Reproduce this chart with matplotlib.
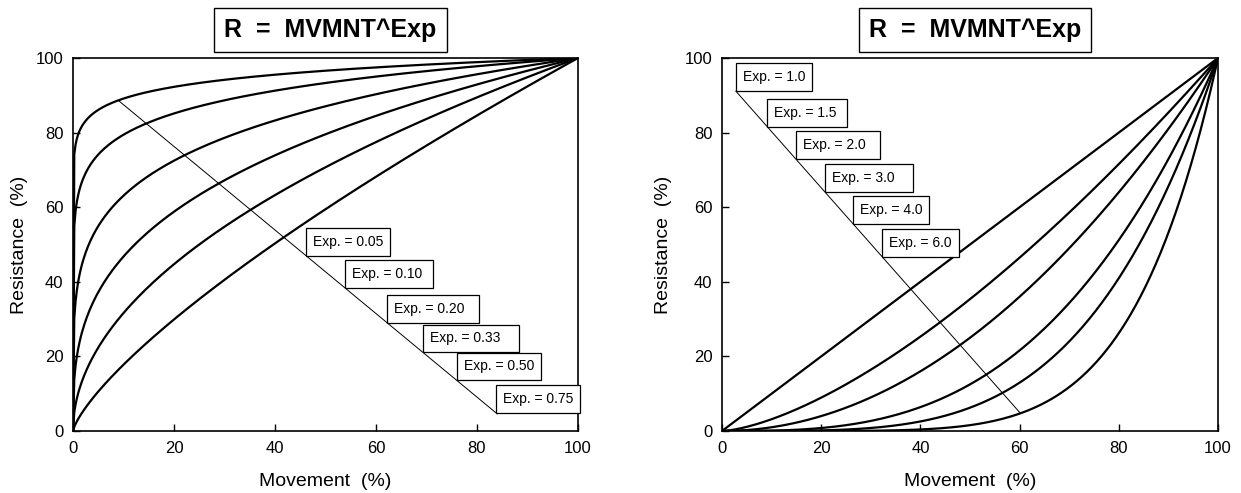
import numpy as np
import matplotlib
matplotlib.use('Agg')
import matplotlib.pyplot as plt

# 曲线指数 (R = MVMNT^Exp)
exps_left = [0.05, 0.10, 0.20, 0.33, 0.50, 0.75]
exps_right = [1.0, 1.5, 2.0, 3.0, 4.0, 6.0]
labels_left = ['Exp. = 0.05', 'Exp. = 0.10', 'Exp. = 0.20', 'Exp. = 0.33', 'Exp. = 0.50', 'Exp. = 0.75']
labels_right = ['Exp. = 1.0', 'Exp. = 1.5', 'Exp. = 2.0', 'Exp. = 3.0', 'Exp. = 4.0', 'Exp. = 6.0']
# 标签框左下角所在的 Movement 位置 (沿引线)
label_x_left = [46.1, 53.9, 62.2, 69.3, 76.0, 83.8]
label_x_right = [2.8, 9.1, 14.9, 20.8, 26.4, 32.3]
# 引线端点
leader_left = ([9, 84], [88.6, 4.6])
leader_right = ([2.8, 60], [91.1, 5.0])
ticks = [0, 20, 40, 60, 80, 100]

plt.rcParams['font.family'] = ['Liberation Sans', 'DejaVu Sans']

movement = np.linspace(0, 100, 401)

fig = plt.figure(figsize=(12.41, 4.93), dpi=100)
ax1 = fig.add_axes([73/1241, 1-431/493, 505/1241, 373/493])
ax2 = fig.add_axes([722/1241, 1-431/493, 496/1241, 373/493])

extra = ['', '\u00a0', '\u00a0\u00a0', '\u00a0\u00a0\u00a0', '', '']

def draw(ax, exps, labels, lx, leader, ylab_x):
    for e in exps:
        ax.plot(movement, 100*(movement/100)**e, color='black', lw=1.6)
    ax.plot(leader[0], leader[1], color='black', lw=0.7)
    slope = (leader[1][1]-leader[1][0])/(leader[0][1]-leader[0][0])
    for x, lab, ex in zip(lx, labels, extra):
        y = leader[1][0] + (x-leader[0][0])*slope
        ax.annotate(lab+ex, xy=(x, y), xytext=(5, 5), textcoords='offset points',
                    ha='left', va='bottom', fontsize=10,
                    bbox=dict(boxstyle='square,pad=0.5', fc='white', ec='black', lw=0.9))
    ax.set_xlim(0, 100)
    ax.set_ylim(0, 100)
    ax.set_xticks(ticks)
    ax.set_yticks(ticks)
    ax.tick_params(direction='in', length=5, width=1, pad=7, labelsize=12)
    for s in ax.spines.values():
        s.set_linewidth(1.2)
    ax.set_xlabel('Movement  (%)', fontsize=14)
    ax.set_ylabel('Resistance  (%)', fontsize=14)
    ax.yaxis.set_label_coords(ylab_x, 0.5)
    ax.xaxis.set_label_coords(0.5, -0.112)
    ax.text(0.51, 1.075, 'R  =  MVMNT^Exp', transform=ax.transAxes, ha='center', va='center',
            fontsize=18, fontweight='bold',
            bbox=dict(boxstyle='square,pad=0.4', fc='white', ec='black', lw=1))

draw(ax1, exps_left, labels_left, label_x_left, leader_left, -0.089)
draw(ax2, exps_right, labels_right, label_x_right, leader_right, -0.10)

fig.savefig('out.png', dpi=100)
